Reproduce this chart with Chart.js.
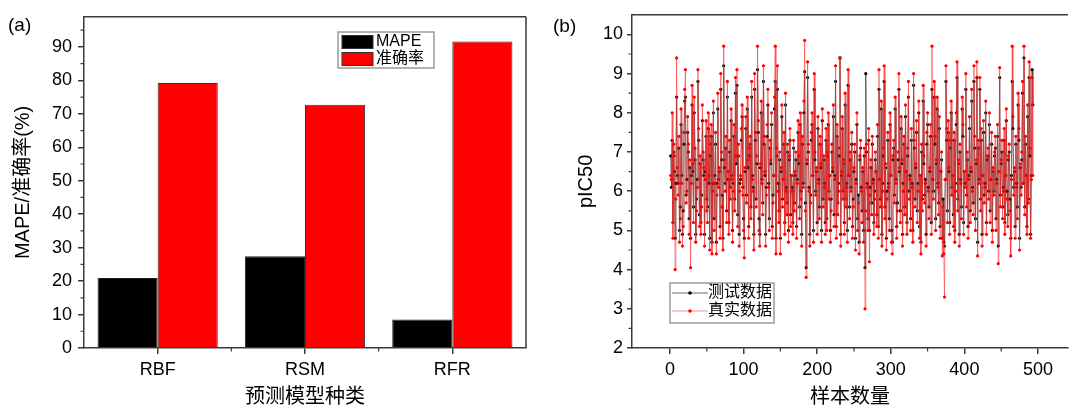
<!DOCTYPE html>
<html><head><meta charset="utf-8">
<script src="https://cdn.jsdelivr.net/npm/chart.js@4"></script>
<style>
html,body{margin:0;padding:0;background:#fff;width:1072px;height:409px;overflow:hidden}
#wrapA{position:absolute;left:0;top:0;width:545px;height:409px}
#wrapB{position:absolute;left:540px;top:0;width:532px;height:409px}
.pl{position:absolute;font-family:'Liberation Sans',Arial,sans-serif;font-size:19px;line-height:19px;color:#000}
</style></head><body>
<div id="wrapA"><canvas id="ca" width="545" height="409"></canvas></div>
<div id="wrapB"><canvas id="cb" width="532" height="409"></canvas></div>
<div class="pl" style="left:8px;top:15px">(a)</div>
<div class="pl" style="left:553px;top:16px">(b)</div>
<script>
const FONT = "'Liberation Sans', 'Noto Sans CJK SC', sans-serif";

// ---- Panel (a) data ----
const categories = ['RBF', 'RSM', 'RFR'];
const mapeValues = [20.9, 27.4, 8.5];
const accuracyValues = [79.2, 72.7, 91.6];
const yTicksA = [0, 10, 20, 30, 40, 50, 60, 70, 80, 90];

// ---- Panel (b) data ----
const trueData = [
6.4,6.3,8.0,4.8,7.2,6.9,4.0,5.8,9.4,6.6,5.9,7.4,4.7,5.3,8.1,6.2,4.6,5.1,7.5,8.6,
9.1,5.7,6.0,7.9,7.2,4.9,6.8,4.05,6.2,8.7,6.7,5.2,8.4,7.1,4.7,5.5,6.1,9.1,7.6,5.1,
6.9,4.9,5.6,8.2,7.0,6.6,4.6,6.3,7.8,5.5,5.2,8.0,6.4,4.5,7.2,7.7,4.4,6.0,8.3,5.0,
6.2,7.5,4.4,5.9,8.5,6.1,6.6,4.8,9.0,7.0,5.6,4.5,9.7,6.8,6.0,7.4,5.2,8.8,6.5,4.9,
7.3,5.8,8.1,6.3,4.7,6.0,7.7,5.5,8.9,6.9,9.1,5.1,7.2,4.6,6.0,6.4,7.6,8.2,5.9,5.0,
4.3,6.6,7.9,5.7,8.4,6.8,4.8,7.1,7.4,5.3,8.8,6.3,6.0,4.5,9.0,7.5,5.6,6.9,9.7,7.8,
5.0,4.6,6.7,8.3,6.2,5.4,9.2,7.4,6.5,4.6,5.9,7.7,8.6,6.1,5.0,7.3,6.8,8.0,4.8,5.7,
6.4,8.4,9.7,4.4,7.1,9.2,6.0,5.2,7.0,4.4,6.6,8.2,5.6,6.3,7.5,4.9,8.5,6.0,5.4,7.2,
4.7,6.9,7.6,5.1,6.4,6.0,4.9,7.3,5.5,6.5,7.0,4.8,6.2,7.8,6.9,5.3,8.0,5.8,4.6,7.4,
6.1,8.3,9.85,5.5,3.8,6.8,9.3,7.2,6.0,4.6,5.7,7.5,8.0,6.4,4.7,9.0,7.0,5.9,6.6,4.9,
7.9,6.2,5.3,7.4,6.7,4.7,8.1,5.6,6.9,6.1,4.9,7.6,5.0,7.0,8.0,5.8,6.4,4.7,5.5,7.2,
6.6,8.2,5.1,6.3,9.2,4.8,7.7,5.4,6.0,7.1,9.4,4.6,6.5,7.9,5.8,6.8,4.9,8.5,5.6,6.1,
4.7,9.1,6.4,5.3,7.0,6.0,7.5,4.8,5.6,6.6,7.2,4.5,6.2,8.0,5.0,5.7,4.4,6.9,7.3,6.0,
5.2,6.6,4.7,7.1,3.0,5.5,7.2,6.1,5.0,7.6,4.2,5.9,6.8,5.4,7.4,6.2,4.9,5.8,7.0,6.5,
5.1,7.7,4.8,9.1,6.3,5.6,8.3,4.6,6.0,7.1,9.2,5.3,6.7,4.5,5.8,7.5,6.1,5.0,8.0,6.4,
4.7,4.4,6.9,7.3,5.7,8.4,6.2,4.8,5.5,7.0,9.0,6.6,5.2,7.9,6.8,4.6,6.0,7.4,5.4,8.2,
6.5,4.9,7.1,8.8,5.8,6.3,5.0,7.6,6.1,4.7,9.0,7.3,5.6,6.7,7.8,5.2,6.0,8.3,4.8,6.4,
4.4,7.2,5.5,8.7,6.9,5.7,6.2,4.6,7.5,8.0,6.0,5.3,6.6,7.7,4.9,9.7,6.3,5.8,8.8,7.4,
5.0,6.8,8.4,6.1,5.4,7.9,4.8,6.5,7.0,4.35,5.6,4.4,3.3,6.3,9.2,7.6,5.2,7.8,6.6,4.9,
7.3,8.3,5.9,6.4,5.1,7.5,4.7,6.0,8.0,9.3,5.5,6.8,4.6,7.2,6.2,5.3,8.4,7.7,4.9,6.5,
6.1,9.0,5.6,7.0,4.8,6.3,7.9,5.2,6.6,8.6,6.0,5.4,9.2,7.4,5.0,6.8,9.3,4.35,7.3,6.2,
8.9,5.5,7.6,4.6,6.4,7.8,5.7,6.1,8.3,4.9,6.9,7.1,5.8,8.0,5.2,6.3,7.5,4.7,6.6,5.9,
7.0,7.4,5.0,6.2,7.7,4.15,6.5,9.15,5.6,6.8,7.3,5.3,6.0,7.6,4.9,6.4,8.1,5.8,5.1,6.9,
7.2,5.5,4.35,6.3,9.7,7.9,5.9,6.6,4.8,7.4,6.1,5.3,8.5,7.6,4.5,6.7,5.9,7.0,8.8,6.2,
9.7,5.4,7.4,6.4,4.9,8.2,5.7,9.3,7.1,4.8,6.3,8.9,6.4
];
const testData = [
6.9,6.1,7.3,5.2,7.0,6.5,4.8,6.2,8.4,6.4,6.2,7.1,5.0,5.6,7.7,6.4,4.9,5.5,7.2,8.3,
8.4,5.9,6.3,7.5,7.0,5.3,6.6,4.8,6.4,8.2,6.5,5.6,8.0,6.8,4.9,5.8,6.3,8.8,7.3,5.4,
6.7,5.2,5.9,7.8,6.8,6.4,4.9,6.5,7.4,5.8,5.6,7.6,6.2,4.8,6.9,7.4,4.7,6.2,8.0,5.3,
6.4,7.2,4.7,6.2,8.1,6.3,6.5,5.1,8.6,6.8,5.9,4.8,9.2,6.6,6.2,7.1,5.5,8.4,6.3,5.2,
7.0,6.1,7.8,6.4,5.0,6.2,7.4,5.8,8.5,6.7,8.7,5.4,6.9,4.9,6.2,6.3,7.3,7.9,6.1,5.3,
4.8,6.5,7.6,5.9,8.1,6.6,5.1,6.9,7.2,5.6,8.4,6.4,6.1,4.9,8.6,7.3,5.8,6.7,9.1,7.5,
5.3,4.9,6.6,8.0,6.3,5.7,8.8,7.2,6.4,4.9,6.1,7.4,8.2,6.2,5.3,7.1,6.7,7.7,5.1,5.9,
6.4,8.1,8.8,4.8,6.9,8.6,6.2,5.5,6.8,4.8,6.5,7.9,5.8,6.3,7.2,5.2,8.2,6.1,5.7,7.0,
5.0,6.8,7.3,5.4,6.4,6.1,5.2,7.1,5.7,6.4,6.8,5.1,6.3,7.5,6.7,5.6,7.7,6.0,4.9,7.2,
6.2,8.0,9.05,5.7,4.05,6.7,8.9,7.0,6.1,4.9,5.9,7.3,7.7,6.4,5.0,8.6,6.8,6.0,6.5,5.2,
7.6,6.3,5.6,7.2,6.6,5.0,7.8,5.8,6.8,6.2,5.2,7.3,5.3,6.9,7.7,6.0,6.4,5.0,5.8,7.0,
6.5,7.9,5.4,6.4,8.8,5.1,7.4,5.7,6.2,6.9,9.4,4.9,6.4,7.6,6.0,6.7,5.2,8.2,5.8,6.2,
5.0,8.7,6.4,5.6,6.8,6.1,7.2,5.1,5.8,6.5,7.0,4.8,6.3,7.7,5.3,5.9,4.7,6.8,7.1,6.1,
5.5,6.5,5.0,6.9,4.05,9.0,7.0,6.2,5.3,7.3,5.0,6.1,6.6,5.7,7.2,6.3,5.2,6.0,6.8,6.5,
5.4,7.4,5.1,8.6,6.3,5.8,8.1,4.9,6.2,6.9,8.8,5.6,6.6,4.8,6.0,7.3,6.2,5.3,7.7,6.4,
5.0,4.7,6.8,7.1,5.9,8.1,6.3,5.1,5.7,6.8,8.6,6.5,5.5,7.6,6.7,4.9,6.2,7.2,5.6,7.9,
6.5,5.2,6.9,8.4,6.0,6.4,5.3,7.3,6.2,5.0,8.7,7.1,5.8,6.6,7.5,5.5,6.2,8.0,5.1,6.4,
4.7,7.0,5.8,8.3,6.7,5.9,6.3,4.9,7.2,7.7,6.1,5.6,6.5,7.4,5.2,8.6,6.3,6.0,8.4,7.2,
5.3,6.7,8.1,6.2,5.7,7.6,5.1,6.5,6.8,4.8,5.8,4.7,4.6,6.3,8.8,7.3,5.5,7.5,6.5,5.2,
7.1,8.0,6.1,6.4,5.4,7.3,5.0,6.2,7.7,8.9,5.8,6.7,4.9,7.0,6.3,5.6,8.1,7.4,5.2,6.5,
6.2,8.6,5.9,6.8,5.1,6.4,7.6,5.5,6.5,8.3,6.1,5.7,8.8,7.1,5.3,6.7,8.9,4.7,7.1,6.3,
8.6,5.8,7.3,4.9,6.4,7.5,5.9,6.2,8.0,5.2,6.8,6.9,6.0,7.7,5.5,6.3,7.2,5.0,6.5,6.0,
6.9,7.1,5.3,6.3,7.4,4.6,6.5,8.9,5.9,6.7,7.0,5.6,6.1,7.3,5.2,6.4,7.8,6.0,5.4,6.8,
7.0,5.8,4.8,6.4,8.8,7.6,6.1,6.5,5.1,7.2,6.2,5.6,8.2,7.3,4.8,6.6,6.1,6.8,8.5,6.2,
9.4,5.6,7.2,6.4,5.1,7.9,5.8,8.9,6.9,4.9,6.4,9.1,8.2
];
const xTicksB = [0, 100, 200, 300, 400, 500];
const yTicksB = [2, 3, 4, 5, 6, 7, 8, 9, 10];

const axisColor = '#3a3a3a';

const frameMinor = {
  id: 'frameMinor',
  afterDraw(chart, args, o) {
    const { ctx, chartArea: a } = chart;
    ctx.save();
    ctx.strokeStyle = axisColor;
    ctx.lineWidth = 1.5;
    ctx.beginPath();
    ctx.moveTo(a.left, a.top); ctx.lineTo(a.right, a.top);
    if (o.right) { ctx.moveTo(a.right, a.top); ctx.lineTo(a.right, a.bottom); }
    ctx.stroke();
    ctx.lineWidth = 1.2;
    ctx.beginPath();
    (o.yMinor || []).forEach(v => {
      const y = chart.scales.y.getPixelForValue(v);
      ctx.moveTo(a.left, y); ctx.lineTo(a.left - o.len, y);
    });
    (o.xMinor || []).forEach(v => {
      const x = chart.scales.x.getPixelForValue(v);
      ctx.moveTo(x, a.bottom); ctx.lineTo(x, a.bottom + o.len);
    });
    ctx.stroke();
    ctx.restore();
  }
};

const boxLegend = {
  id: 'boxLegend',
  afterDraw(chart, args, o) {
    const ctx = chart.ctx;
    ctx.save();
    ctx.fillStyle = '#fff';
    ctx.fillRect(o.x, o.y, o.w, o.h);
    ctx.strokeStyle = '#9a9a9a';
    ctx.lineWidth = 1.5;
    ctx.strokeRect(o.x, o.y, o.w, o.h);
    ctx.font = o.fontSize + 'px ' + FONT;
    ctx.textBaseline = 'middle';
    chart.data.datasets.forEach((ds, i) => {
      const cy = o.y + o.firstRow + i * o.rowGap;
      if (o.kind === 'bar') {
        ctx.fillStyle = ds.backgroundColor;
        ctx.fillRect(o.x + o.symX, cy - o.symH / 2, o.symW, o.symH);
        ctx.strokeStyle = '#333'; ctx.lineWidth = 1;
        ctx.strokeRect(o.x + o.symX, cy - o.symH / 2, o.symW, o.symH);
      } else {
        ctx.strokeStyle = ds.borderColor; ctx.lineWidth = 1.2;
        ctx.beginPath();
        ctx.moveTo(o.x + o.symX, cy); ctx.lineTo(o.x + o.symX + o.symW, cy);
        ctx.stroke();
        ctx.fillStyle = ds.pointBackgroundColor;
        ctx.beginPath();
        ctx.arc(o.x + o.symX + o.symW / 2, cy, 1.8, 0, Math.PI * 2);
        ctx.fill();
      }
      ctx.fillStyle = '#000';
      ctx.fillText(ds.label, o.x + o.textX, cy);
    });
    ctx.restore();
  }
};

Chart.register(frameMinor, boxLegend);

function tickFont(size) { return { family: FONT, size: size }; }

// ---- Chart (a) ----
new Chart(document.getElementById('ca'), {
  type: 'bar',
  data: {
    labels: categories,
    datasets: [
      { label: 'MAPE', data: mapeValues, backgroundColor: '#000000', borderColor: '#222', borderWidth: 1,
        categoryPercentage: 0.816, barPercentage: 1 },
      { label: '准确率', data: accuracyValues, backgroundColor: '#ff0000', borderColor: '#333', borderWidth: 1,
        categoryPercentage: 0.816, barPercentage: 1 }
    ]
  },
  options: {
    responsive: false, animation: false, devicePixelRatio: 1,
    layout: { padding: { left: 0, right: 19, top: 14, bottom: 0 } },
    plugins: {
      legend: { display: false }, tooltip: { enabled: false },
      frameMinor: { right: true, len: 3.5, yMinor: [5, 15, 25, 35, 45, 55, 65, 75, 85, 95], xMinor: [0.5, 1.5] },
      boxLegend: { kind: 'bar', x: 338, y: 32, w: 96, h: 36, firstRow: 10, rowGap: 17,
        symX: 4, symW: 31, symH: 13, textX: 38, fontSize: 16 }
    },
    scales: {
      x: {
        offset: true,
        grid: { offset: false, drawOnChartArea: false, drawTicks: true, tickLength: 6, color: axisColor, lineWidth: 1.5 },
        border: { color: axisColor, width: 1.5 },
        ticks: { font: tickFont(18), color: '#000', padding: 5, maxRotation: 0 },
        title: { display: true, text: '预测模型种类', color: '#000', font: tickFont(20), padding: { top: 0, bottom: 0 } },
        afterFit(s) { s.height = 61; }
      },
      y: {
        min: 0, max: 99,
        afterBuildTicks(s) { s.ticks = yTicksA.map(v => ({ value: v })); },
        grid: { drawOnChartArea: false, drawTicks: true, tickLength: 6, color: axisColor, lineWidth: 1.5 },
        border: { color: axisColor, width: 1.5 },
        ticks: { font: tickFont(18), color: '#000', padding: 6 },
        title: { display: true, text: 'MAPE/准确率(%)', color: '#000', font: tickFont(20), padding: { top: 11, bottom: 0 } },
        afterFit(s) { s.width = 84; }
      }
    }
  }
});

// ---- Chart (b) ----
new Chart(document.getElementById('cb'), {
  type: 'line',
  data: {
    datasets: [
      { label: '测试数据', data: testData.map((v, i) => ({ x: i + 1, y: v })), order: 1,
        borderColor: 'rgba(60,60,60,0.75)', borderWidth: 1, pointRadius: 1.6, pointBorderWidth: 0,
        pointBackgroundColor: '#000', pointBorderColor: '#000', tension: 0, fill: false },
      { label: '真实数据', data: trueData.map((v, i) => ({ x: i + 1, y: v })), order: 0,
        borderColor: 'rgba(255,40,40,0.55)', borderWidth: 1, pointRadius: 1.6, pointBorderWidth: 0,
        pointBackgroundColor: '#ff0000', pointBorderColor: '#ff0000', tension: 0, fill: false }
    ]
  },
  options: {
    responsive: false, animation: false, devicePixelRatio: 1,
    layout: { padding: { left: 0, right: 0, top: 14, bottom: 0 } },
    plugins: {
      legend: { display: false }, tooltip: { enabled: false },
      frameMinor: { right: false, len: 3.5, yMinor: [2.5, 3.5, 4.5, 5.5, 6.5, 7.5, 8.5, 9.5], xMinor: [50, 150, 250, 350, 450] },
      boxLegend: { kind: 'line', x: 130, y: 283, w: 104, h: 40, firstRow: 10, rowGap: 18,
        symX: 2, symW: 36, textX: 38, fontSize: 16 }
    },
    scales: {
      x: {
        type: 'linear', min: -51.6, max: 540.8,
        afterBuildTicks(s) { s.ticks = xTicksB.map(v => ({ value: v })); },
        grid: { drawOnChartArea: false, drawTicks: true, tickLength: 6, color: axisColor, lineWidth: 1.5 },
        border: { color: axisColor, width: 1.5 },
        ticks: { font: tickFont(18), color: '#000', padding: 5, maxRotation: 0 },
        title: { display: true, text: '样本数量', color: '#000', font: tickFont(20), padding: { top: 0, bottom: 0 } },
        afterFit(s) { s.height = 61; }
      },
      y: {
        min: 2, max: 10.5,
        afterBuildTicks(s) { s.ticks = yTicksB.map(v => ({ value: v })); },
        grid: { drawOnChartArea: false, drawTicks: true, tickLength: 5, color: axisColor, lineWidth: 1.5 },
        border: { color: axisColor, width: 1.5 },
        ticks: { font: tickFont(18), color: '#000', padding: 4 },
        title: { display: true, text: 'pIC50', color: '#000', font: tickFont(20), padding: { top: 34, bottom: 0 } },
        afterFit(s) { s.width = 92; }
      }
    }
  }
});
</script>
</body></html>
